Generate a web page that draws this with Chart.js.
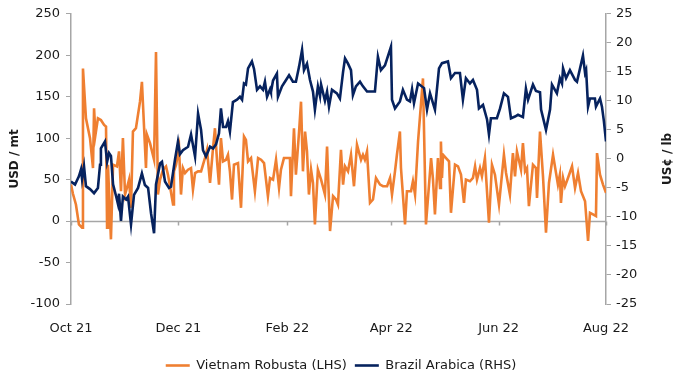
<!DOCTYPE html>
<html>
<head>
<meta charset="utf-8">
<script src="https://cdn.jsdelivr.net/npm/chart.js@4"></script>
<style>
  html, body { margin: 0; padding: 0; background: #fff; }
  #wrap { width: 682px; height: 376px; position: relative; }
</style>
</head>
<body>
<div id="wrap"><canvas id="grafico"></canvas></div>
<script>
// eixo x: dias desde 1 out 2021
var mesesDias = [0, 61, 123, 182, 243, 304]
var mesesLabels = ['Oct 21', 'Dec 21', 'Feb 22', 'Apr 22', 'Jun 22', 'Aug 22']

// Vietnam Robusta, USD / mt (eixo esquerdo)
var robustaDias = [
    0, 1.1, 2.8, 4.5, 6.3, 6.8, 8.5, 10.8, 12.5, 13.1,
    13.9, 15.3, 17.0, 18.8, 19.9, 20.5, 21.0, 22.7, 23.9, 26.1,
    27.3, 28.4, 29.5, 30.7, 31.8, 33.0, 34.1, 35.2, 36.9, 39.2,
    40.3, 42.6, 43.2, 44.9, 47.2, 48.3, 49.4, 50.6, 52.3, 54.0,
    55.1, 58.0, 58.5, 59.7, 61.4, 62.5, 63.6, 64.8, 66.5, 68.2,
    69.3, 70.5, 72.2, 73.9, 76.1, 77.3, 79.0, 80.7, 81.8, 83.0,
    84.1, 85.2, 86.4, 88.1, 89.2, 90.3, 91.5, 92.6, 94.9, 96.6,
    98.3, 99.4, 100.6, 102.3, 104.5, 106.3, 108.0, 109.7, 111.9, 113.1,
    114.8, 116.5, 118.2, 119.3, 121.0, 124.4, 125.0, 126.7, 127.8, 129.6,
    130.7, 131.8, 133.0, 134.1, 135.2, 136.4, 137.5, 138.6, 140.3, 142.1,
    144.3, 145.5, 147.2, 148.9, 150.6, 151.7, 153.4, 154.6, 155.7, 157.4,
    159.1, 160.8, 162.5, 164.8, 165.9, 167.0, 168.2, 169.9, 171.6, 173.3,
    175.6, 177.3, 179.6, 181.3, 182.4, 184.1, 185.2, 186.9, 187.5, 189.8,
    190.9, 193.2, 194.3, 195.5, 197.2, 200.0, 201.7, 204.6, 205.7,
    206.8, 208.5, 209.7, 210.2, 210.8, 211.4, 213.1, 214.8, 215.9, 218.2,
    219.9, 221.6, 223.3, 224.4, 226.7, 228.4, 229.6, 230.7, 232.4, 233.5,
    235.2, 237.5, 239.2, 240.9, 243.2, 246.0, 247.2, 249.4, 251.1, 252.3,
    253.4, 255.7, 256.8, 258.0, 259.1, 260.2, 262.5, 264.2, 264.8, 266.5,
    268.2, 269.9, 271.6, 273.9, 276.7, 277.8, 278.4, 279.6, 280.7, 282.4,
    284.7, 286.4, 288.1, 289.8, 292.1, 293.8, 294.9, 296.6, 298.3, 298.9,
    300.6, 302.3, 304.0
]
var robustaValores = [
    44, 33, 20, -4, -8, 184, 124, 100, 64, 136,
    104, 124, 122, 116, 114, -8, 68, -22, 68, 66,
    84, 36, 100, 32, 40, 50, 16, 108, 112, 144,
    168, 64, 104, 94, 74, 204, 32, 50, 62, 66,
    56, 20, 60, 68, 88, 32, 64, 58, 62, 64,
    38, 58, 60, 60, 76, 86, 46, 88, 112, 72,
    44, 100, 72, 74, 80, 60, 26, 68, 70, 16,
    102, 98, 72, 76, 36, 76, 74, 70, 30, 52,
    50, 74, 40, 62, 76, 76, 30, 112, 56, 108,
    144, 60, 108, 84, 32, 62, 46, -4, 62, 50,
    32, 90, -12, 30, 26, 20, 86, 44, 66, 60,
    80, 42, 92, 74, 80, 74, 84, 22, 26, 52,
    44, 42, 42, 52, 32, 60, 80, 108, 64, -4,
    36, 36, 48, 32, 96, 172, -4, 76, 50,
    8, 76, 40, 96, 52, 80, 76, 72, 10, 68,
    66, 56, 22, 50, 48, 52, 66, 50, 64, 54,
    76, -2, 68, 56, 20, 80, 58, 32, 82, 54,
    84, 62, 94, 60, 64, 18, 68, 64, 28, 108,
    54, -14, 46, 80, 44, 56, 22, 52, 42, 52,
    66, 40, 58, 36, 24, -24, 10, 8, 6, 82,
    56, 44, 34
]

// Brazil Arabica, US¢ / lb (eixo direito)
var arabicaDias = [
    0, 2.3, 4.5, 5.7, 6.3, 7.4, 8.5, 10.8, 13.1, 15.3,
    16.5, 17.0, 19.3, 20.5, 21.6, 22.7, 23.9, 25.6, 26.7, 27.3,
    28.4, 29.5, 31.3, 32.4, 34.1, 35.8, 38.1, 40.3, 42.0, 43.8,
    45.5, 47.2, 48.3, 50.6, 51.7, 53.4, 55.7, 56.8, 59.1, 60.8,
    61.9, 63.6, 66.5, 68.2, 70.5, 72.2, 73.9, 75.0, 76.7, 79.0,
    80.7, 82.4, 84.1, 85.2, 86.4, 88.1, 89.2, 90.3, 92.0, 94.3,
    96.0, 97.2, 98.3, 99.4, 100.6, 102.8, 104.0, 105.7, 107.4, 109.1,
    110.2, 111.4, 113.1, 113.6, 114.8, 117.0, 117.6, 119.9, 122.2, 123.9,
    126.1, 127.8, 129.6, 131.3, 132.4, 134.1, 135.8, 137.5, 138.6, 140.3,
    141.5, 142.1, 144.3, 145.5, 146.6, 148.3, 151.1, 152.8, 154.6, 155.7,
    157.4, 159.1, 160.2, 161.9, 164.2, 165.9, 168.2, 170.5, 172.7, 174.4,
    176.1, 178.4, 181.8, 182.4, 184.1, 186.9, 188.6, 190.9, 192.6, 193.8,
    194.9, 197.2, 200.6, 202.3, 204.0, 206.8, 209.1, 210.8, 214.2, 215.9,
    218.2, 221.0, 222.7, 224.4, 226.7, 228.4, 230.7, 231.8, 234.1, 236.4,
    237.5, 238.6, 242.0, 243.8, 246.0, 248.3, 250.0, 252.3, 254.0, 256.8,
    258.5, 259.7, 262.5, 264.2, 266.5, 267.1, 269.9, 272.2, 273.3, 276.1,
    277.8, 279.0, 279.6, 281.3, 283.5, 286.4, 287.5, 290.9, 292.1, 292.7,
    293.8, 294.9, 297.7, 298.3, 300.6, 301.7, 302.8, 304.0
]
var arabicaValores = [
    -3.9, -4.4, -3, -1.8, -3.5, -1.3, -4.7, -5.2, -5.9, -5,
    -1, 1.8, 3, -0.5, 1, 0.5, -4.4, -6.4, -7.8, -6,
    -10.7, -6.5, -7, -6.5, -11.3, -6.2, -5, -2.5, -4.5, -5,
    -9.4, -12.8, -4.4, -0.8, -0.5, -3.9, -5, -4.8, -0.1, 3,
    0.8, 1.5, 2.1, 4.2, 0.4, 7.8, 5, 1.5, 0.4, 2.1,
    1.8, 2.5, 4.4, 8.7, 5.5, 5.5, 6.5, 4.7, 9.8, 10.2,
    10.7, 10.2, 13, 12.8, 15.6, 16.8, 15.5, 11.9, 12.5, 11.9,
    13.3, 10.7, 12, 11.5, 13.5, 14.7, 10.7, 12.5, 13.6, 14.4,
    13.3, 13.3, 15.9, 18.8, 15.3, 16.4, 13.6, 11.6, 8.5, 12.5,
    10.8, 12.8, 10, 11.6, 9, 11.9, 11.3, 10.4, 15, 17.3,
    16.4, 15.3, 11, 12.5, 13.3, 12.5, 11.6, 11.6, 11.6, 17.6,
    15.3, 16.1, 19.3, 10.2, 8.7, 9.9, 11.9, 10.2, 9.9, 12,
    9.6, 13, 12.2, 8.5, 11.3, 8.5, 15.6, 16.5, 16.8, 13.9,
    14.8, 14.8, 10.2, 13.9, 13, 13.6, 11.9, 8.7, 9.3, 6.8,
    4.2, 7, 7, 8.7, 11.3, 10.7, 7, 7.3, 7.6, 7.2,
    12.1, 10.2, 12.8, 11.7, 11.5, 8.5, 5, 8.5, 12.8, 11.3,
    13.9, 13, 15.6, 13.9, 15.3, 13.6, 13.3, 17.8, 14.8, 15.3,
    9, 10.4, 10.4, 9, 10.4, 9, 6.5, 3
]

var corLaranja = '#EF7F31'
var corAzul = '#06225E'
var corEixo = '#A6A6A6'
var corTexto = '#1a1a1a'
var fonte = 'DejaVu Sans'

Chart.defaults.font.family = fonte
Chart.defaults.font.size = 13
Chart.defaults.color = corTexto

function pontos(dias, valores) {
    return dias.map((d, i) => ({ x: d, y: valores[i] }))
}

// linha do zero com as marcas dos meses + titulos dos eixos
const decoracaoEixos = {
    id: 'decoracaoEixos',
    beforeDatasetsDraw(chart) {
        const { ctx, chartArea, scales } = chart
        const y0 = Math.round(scales.y.getPixelForValue(0)) + 0.5
        ctx.save()
        ctx.strokeStyle = corEixo
        ctx.lineWidth = 1.5
        ctx.beginPath()
        ctx.moveTo(chartArea.left, y0)
        ctx.lineTo(chartArea.right, y0)
        mesesDias.forEach(d => {
            const x = Math.round(scales.x.getPixelForValue(d)) + 0.5
            ctx.moveTo(x, y0)
            ctx.lineTo(x, y0 + 4)
        })
        ctx.stroke()
        ctx.restore()
    },
    afterDraw(chart) {
        const { ctx, chartArea } = chart
        const meio = (chartArea.top + chartArea.bottom) / 2
        ctx.save()
        ctx.fillStyle = corTexto
        ctx.font = 'bold 12px ' + fonte
        ctx.textAlign = 'center'
        ctx.textBaseline = 'middle'
        ctx.translate(15, meio)
        ctx.rotate(-Math.PI / 2)
        ctx.fillText('USD / mt', 0, 0)
        ctx.restore()

        ctx.save()
        ctx.fillStyle = corTexto
        ctx.font = 'bold 12px ' + fonte
        ctx.textAlign = 'center'
        ctx.textBaseline = 'middle'
        ctx.translate(668, meio)
        ctx.rotate(-Math.PI / 2)
        ctx.fillText('US¢ / lb', 0, 0)
        ctx.restore()
    }
}

const config = {
    type: 'line',
    data: {
        datasets: [{
            label: 'Vietnam Robusta (LHS)',
            data: pontos(robustaDias, robustaValores),
            borderColor: corLaranja,
            backgroundColor: corLaranja,
            borderWidth: 2.6,
            pointRadius: 0,
            pointStyle: 'line',
            yAxisID: 'y',
            order: 1
        }, {
            label: 'Brazil Arabica (RHS)',
            data: pontos(arabicaDias, arabicaValores),
            borderColor: corAzul,
            backgroundColor: corAzul,
            borderWidth: 2.6,
            pointRadius: 0,
            pointStyle: 'line',
            yAxisID: 'y1',
            order: 0
        }]
    },
    options: {
        responsive: true,
        maintainAspectRatio: false,
        animation: false,
        layout: { padding: { top: 12, left: 0, right: 0, bottom: -6 } },
        plugins: {
            tooltip: { enabled: false },
            legend: {
                position: 'bottom',
                labels: {
                    usePointStyle: true,
                    pointStyleWidth: 24,
                    padding: 8,
                    color: corTexto,
                    font: { size: 13 },
                    sort: (a, b) => a.datasetIndex - b.datasetIndex
                }
            }
        },
        scales: {
            x: {
                type: 'linear',
                min: 0,
                max: 304,
                grid: { display: false, drawTicks: false },
                border: { display: false },
                afterBuildTicks: (scale) => {
                    scale.ticks = mesesDias.map(v => ({ value: v }))
                },
                afterFit: (scale) => { scale.height = 47 },
                ticks: {
                    padding: 17,
                    autoSkip: false,
                    maxRotation: 0,
                    callback: (valor) => mesesLabels[mesesDias.indexOf(valor)]
                }
            },
            y: {
                position: 'left',
                min: -100,
                max: 250,
                afterFit: (scale) => { scale.width = 71 },
                ticks: { stepSize: 50, padding: 6 },
                grid: { drawOnChartArea: false, tickLength: 5, color: corEixo },
                border: { color: corEixo, width: 1.5 }
            },
            y1: {
                position: 'right',
                min: -25,
                max: 25,
                afterFit: (scale) => { scale.width = 76 },
                ticks: { stepSize: 5, padding: 5 },
                grid: { drawOnChartArea: false, tickLength: 5, color: corEixo },
                border: { color: corEixo, width: 1.5 }
            }
        }
    },
    plugins: [decoracaoEixos]
}

new Chart(document.getElementById('grafico'), config)
</script>
</body>
</html>
